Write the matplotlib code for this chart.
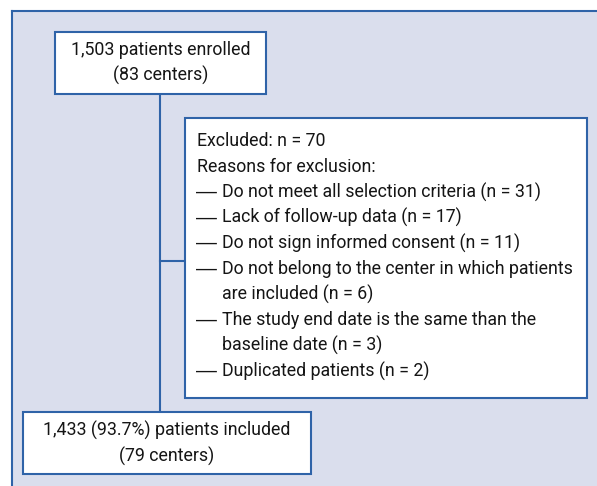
import matplotlib
matplotlib.use('Agg')
import matplotlib.pyplot as plt
from matplotlib.patches import Rectangle

# Data
enrolled = 1503
enrolled_centers = 83
excluded = 70
reasons = [
    'Do not meet all selection criteria',
    'Lack of follow-up data',
    'Do not sign informed consent',
    'Do not belong to the center in which patients\nare included',
    'The study end date is the same than the\nbaseline date',
    'Duplicated patients',
]
reason_counts = [31, 17, 11, 6, 3, 2]
included = 1433
included_pct = 93.7
included_centers = 79

plt.rcParams['font.family'] = ['Roboto', 'DejaVu Sans']

colors = {
    'bg': '#DADEED',
    'border': '#2F63A8',
    'box': '#FFFFFF',
    'text': '#151515',
}

W, H = 597, 486
fig = plt.figure(figsize=(W / 100, H / 100), dpi=100)
ax = fig.add_axes([0, 0, 1, 1])
ax.set_xlim(0, W)
ax.set_ylim(H, 0)
ax.axis('off')

FS = 12.8

# Outer panel (left and top edges only visible)
ax.add_patch(Rectangle((12, 11), W, H, facecolor=colors['bg'], edgecolor='none'))
ax.plot([12, 12], [11, H], color=colors['border'], lw=1.5)
ax.plot([12, W], [11, 11], color=colors['border'], lw=1.5)


def box(x0, y0, x1, y1):
    ax.add_patch(Rectangle((x0, y0), x1 - x0, y1 - y0, facecolor=colors['box'],
                           edgecolor=colors['border'], lw=1.5, zorder=3))


# Connectors
ax.plot([160, 160], [94, 412], color=colors['border'], lw=1.5, zorder=2)
ax.plot([160, 185], [261, 261], color=colors['border'], lw=1.5, zorder=2)

# Box 1 - enrolled
box(55, 32, 266, 94)
ax.text(160.5, 63, f'{enrolled:,} patients enrolled\n({enrolled_centers} centers)',
        ha='center', va='center', fontsize=FS, color=colors['text'],
        linespacing=1.45, zorder=4)

# Box 2 - exclusions
box(185, 118, 587, 398)
y = 141
for ln in [f'Excluded: n = {excluded}', 'Reasons for exclusion:']:
    ax.text(197, y, ln, ha='left', va='center', fontsize=FS,
            color=colors['text'], zorder=4)
    y += 25.6
for r, n in zip(reasons, reason_counts):
    parts = r.split('\n')
    parts[-1] = parts[-1] + f' (n = {n})'
    ax.text(196, y, '—', ha='left', va='center', fontsize=15,
            family='Liberation Sans', color=colors['text'], zorder=4)
    for p in parts:
        ax.text(222, y, p, ha='left', va='center', fontsize=FS,
                color=colors['text'], zorder=4)
        y += 25.6

# Box 3 - included
box(23, 412, 311, 474)
ax.text(167, 443, f'{included:,} ({included_pct}%) patients included\n({included_centers} centers)',
        ha='center', va='center', fontsize=FS, color=colors['text'],
        linespacing=1.45, zorder=4)

plt.savefig('out.png', dpi=100)
